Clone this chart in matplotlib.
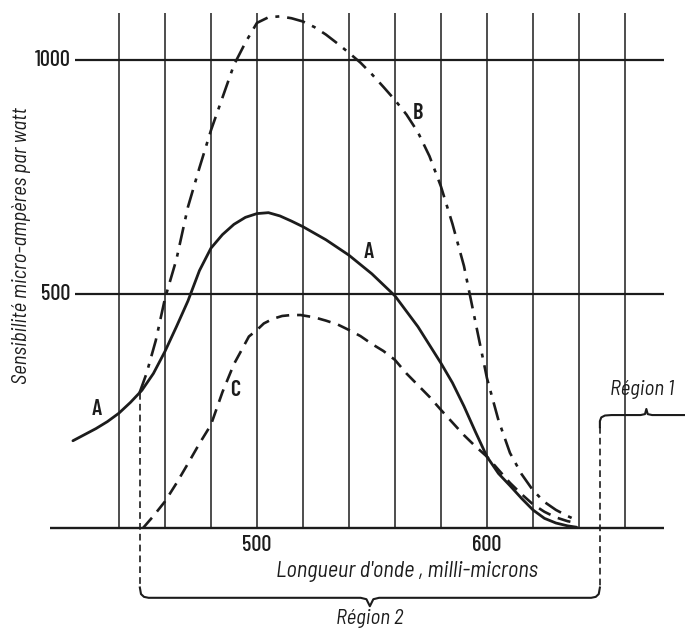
import matplotlib
matplotlib.use("Agg")
import matplotlib.pyplot as plt

# ---------------- data ----------------
wl_A = [420, 425, 430, 435, 440, 445, 450, 455, 460, 465, 470, 475, 480, 485, 490,
        495, 500, 505, 510, 515, 520, 530, 540, 550, 560, 570, 575, 580, 585, 590,
        595, 600, 605, 610, 615, 620, 625, 630, 635, 639]
sens_A = [186, 199, 212, 227, 245, 268, 294, 330, 377, 430, 485, 550, 598, 627, 649,
          664, 672, 674, 667, 656, 644, 616, 583, 543, 496, 430, 391, 352, 310, 260,
          205, 152, 116, 90, 63, 38, 20, 10, 4, 1]

wl_B = [449, 452, 456, 460, 465, 470, 475, 480, 485, 490, 495, 500, 505, 510, 515,
        520, 525, 530, 535, 540, 545, 550, 555, 560, 565, 570, 575, 580, 585, 590,
        595, 600, 605, 610, 615, 620, 625, 630, 635, 639]
sens_B = [289, 330, 400, 490, 574, 686, 770, 850, 920, 990, 1038, 1080, 1092, 1094, 1090,
          1083, 1071, 1055, 1036, 1016, 995, 970, 943, 915, 884, 846, 795, 730, 650, 560,
          440, 320, 230, 160, 115, 80, 55, 38, 25, 16]

wl_C = [450.6, 455, 460, 465, 470, 475, 480, 485, 490, 493, 496.5, 500, 503, 507, 511,
        515, 519, 525, 530, 535, 540, 545, 550, 555, 560, 565, 570, 575, 580, 585,
        590, 595, 600, 605, 610, 615, 620, 625, 630, 635, 639]
sens_C = [0, 25, 56, 95, 137, 180, 220, 290, 350, 377, 409, 423, 437, 447, 453,
          455, 455, 450, 443, 435, 423, 410, 393, 378, 359, 330, 305, 280, 252, 225,
          198, 174, 152, 124, 96, 72, 50, 34, 22, 14, 10]

grid_wl = [440, 460, 480, 500, 520, 540, 560, 580, 600, 620, 640, 660]
x_tick_vals = [500, 600]
x_tick_labels = ["500", "600"]
y_tick_vals = [500, 1000]
y_tick_labels = ["500", "1000"]
region2 = (449.1, 649.1)
region1_start = 649.1

# ---------------- drawing ----------------
cond = ["Barlow Condensed", "DejaVu Sans"]
semi = ["Barlow Semi Condensed", "Barlow Condensed", "DejaVu Sans"]
ink = "#1c1c1c"

fig = plt.figure(figsize=(6.85, 6.28), dpi=100)
ax = fig.add_axes([0, 0, 1, 1])
ax.set_xlim(388.3, 686.1)
ax.set_ylim(-214.6, 1129)
ax.axis("off")

# grid
ax.vlines(grid_wl, 0, 1101, color=ink, lw=1.1)
ax.hlines(y_tick_vals, 421, 677, color=ink, lw=1.6)
ax.hlines(0, 410, 677, color=ink, lw=1.7)

# tick labels
for v, lab in zip(y_tick_vals, y_tick_labels):
    ax.text(419.0, v, lab, ha="right", va="center", fontsize=16,
            family=cond, fontweight="medium", color=ink)
for v, lab in zip(x_tick_vals, x_tick_labels):
    ax.text(v, -37, lab, ha="center", va="center", fontsize=16,
            family=cond, fontweight="medium", color=ink)

# curves
ax.plot(wl_A, sens_A, color=ink, lw=2.0, solid_capstyle="round")
ax.plot(wl_B, sens_B, color=ink, lw=1.9, linestyle=(0, (7, 3, 1.5, 3)))
ax.plot(wl_C, sens_C, color=ink, lw=1.9, linestyle=(0, (5, 3)))

# curve labels
lab_kw = dict(fontsize=16, family=cond, fontweight="semibold", color=ink,
              ha="center", va="center")
ax.text(430.3, 254, "A", **lab_kw)
ax.text(548.7, 590, "A", **lab_kw)
ax.text(569.9, 887, "B", **lab_kw)
ax.text(490.4, 295, "C", **lab_kw)

# axis titles
ax.text(565.2, -93, "Longueur d'onde , milli-microns", ha="center", va="center",
        fontsize=16, family=semi, style="italic", color=ink)
ax.text(397.6, 603, "Sensibilité micro-ampères par watt", ha="center", va="center",
        fontsize=15, family=semi, style="italic", rotation=90, color=ink)

# Region 2 : dashed verticals + brace
l2, r2 = region2
ax.plot([l2, l2], [289, -128], color=ink, lw=1.2, linestyle=(0, (4, 2.5)))
ax.plot([r2, r2], [215, -128], color=ink, lw=1.2, linestyle=(0, (4, 2.5)))
mid = (l2 + r2) / 2
bx = [l2, l2 + 0.5, l2 + 1.8, l2 + 3.8, mid - 4, mid - 1.5, mid, mid + 1.5, mid + 4,
      r2 - 3.8, r2 - 1.8, r2 - 0.5, r2]
by = [-128, -142, -148, -150, -150, -153, -168, -153, -150, -150, -148, -142, -128]
ax.plot(bx, by, color=ink, lw=1.5, solid_joinstyle="round")
ax.text(mid, -195, "Région 2", ha="center", va="center", fontsize=15,
        family=semi, style="italic", color=ink)

# Region 1 bracket
r1 = region1_start
tip = r1 + 20.2
rx = [r1, r1, r1 + 0.6, r1 + 2.2, r1 + 5, tip - 2.5, tip - 0.6, tip, tip + 0.6, tip + 2.5, 690]
ry = [215, 228, 236, 240, 241, 241, 243, 254, 243, 241, 241]
ax.plot(rx, ry, color=ink, lw=1.5, solid_joinstyle="round")
ax.text(653.5, 296, "Région 1", ha="left", va="center", fontsize=15,
        family=semi, style="italic", color=ink)

fig.savefig("out.png", dpi=100, facecolor="white")
